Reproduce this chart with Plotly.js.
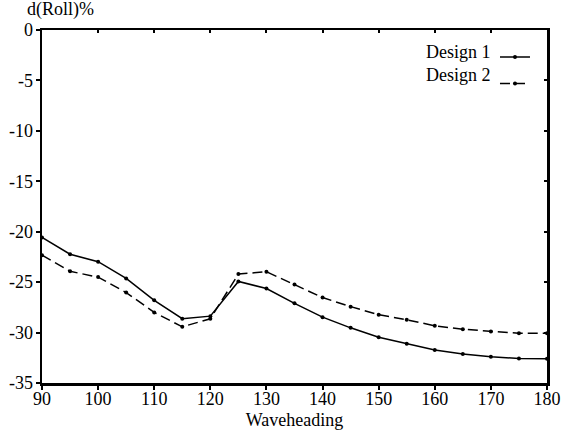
<!DOCTYPE html>
<html><head><meta charset="utf-8">
<script src="https://cdn.plot.ly/plotly-3.0.1.min.js"></script>
<style>html,body{margin:0;padding:0;background:#fff}#chart{width:561px;height:432px}</style>
</head><body><div id="chart"></div>
<script>
const waveheading = [90,95,100,105,110,115,120,125,130,135,140,145,150,155,160,165,170,175,180];
const design1 = [-20.57,-22.23,-22.97,-24.63,-26.8,-28.63,-28.37,-24.93,-25.63,-27.1,-28.47,-29.53,-30.47,-31.1,-31.73,-32.13,-32.4,-32.57,-32.6];
const design2 = [-22.33,-23.93,-24.5,-26.03,-28.0,-29.43,-28.63,-24.2,-23.97,-25.23,-26.53,-27.43,-28.23,-28.73,-29.33,-29.67,-29.9,-30.07,-30.07];
const seriesNames = ['Design 1','Design 2'];
const xTicks = [90,100,110,120,130,140,150,160,170,180];
const yTicks = [0,-5,-10,-15,-20,-25,-30,-35];
const xLabel = 'Waveheading';
const yLabel = 'd(Roll)%';

const FONT = '"Liberation Serif", "Times New Roman", serif';
const traces = [
  {x: waveheading, y: design1, name: ' ', mode: 'lines+markers', type: 'scatter',
   line: {color: '#000', width: 1.5}, marker: {symbol: 'circle', size: 4, color: '#000'}},
  {x: waveheading, y: design2, name: ' ', mode: 'lines+markers', type: 'scatter',
   line: {color: '#000', width: 1.5, dash: '10px,5px'}, marker: {symbol: 'circle', size: 4, color: '#000'}},
  {x: [], y: [], xaxis: 'x2', yaxis: 'y2', showlegend: false, hoverinfo: 'skip', type: 'scatter', mode: 'lines'}
];
const axisCommon = {showgrid: false, zeroline: false, linecolor: '#000', linewidth: 2.5,
  tickcolor: '#000', tickwidth: 2, tickfont: {family: FONT, size: 18, color: '#000'}};
const layout = {
  width: 561, height: 432,
  margin: {l: 42, r: 14, t: 30, b: 49},
  paper_bgcolor: '#fff', plot_bgcolor: '#fff',
  font: {family: FONT, size: 18, color: '#000'},
  xaxis: Object.assign({}, axisCommon, {range: [90, 180], tickmode: 'array', tickvals: xTicks,
    ticktext: xTicks.map(String), ticklabelstandoff: -6,
    ticks: 'outside', ticklen: 4, mirror: true, automargin: false,
    title: {text: xLabel, font: {family: FONT, size: 18}, standoff: 6}}),
  yaxis: Object.assign({}, axisCommon, {range: [-35, 0], tickmode: 'array', tickvals: yTicks,
    ticktext: yTicks.map(String), ticklabelstandoff: -1,
    ticks: 'outside', ticklen: 4, mirror: true, automargin: false}),
  xaxis2: {overlaying: 'x', side: 'top', range: [90, 180], tickmode: 'array', tickvals: xTicks,
    ticks: 'inside', ticklen: 3, tickwidth: 2, tickcolor: '#000', showticklabels: false,
    showgrid: false, zeroline: false, showline: false},
  yaxis2: {overlaying: 'y', side: 'right', range: [-35, 0], tickmode: 'array', tickvals: yTicks,
    ticks: 'inside', ticklen: 3, tickwidth: 2, tickcolor: '#000', showticklabels: false,
    showgrid: false, zeroline: false, showline: false},
  showlegend: true,
  legend: {x: 0.897, y: 0.975, xanchor: 'left', yanchor: 'top', bgcolor: 'rgba(0,0,0,0)',
    font: {family: FONT, size: 18}, tracegroupgap: 0, itemwidth: 30},
  annotations: [
    {text: yLabel, xref: 'paper', yref: 'paper', x: -0.034, y: 1.057, xanchor: 'left', yanchor: 'middle',
     showarrow: false, font: {family: FONT, size: 18, color: '#000'}},
    {text: seriesNames[0], xref: 'paper', yref: 'paper', x: 0.893, y: 0.9377, xanchor: 'right', yanchor: 'middle',
     showarrow: false, font: {family: FONT, size: 18, color: '#000'}},
    {text: seriesNames[1], xref: 'paper', yref: 'paper', x: 0.893, y: 0.8725, xanchor: 'right', yanchor: 'middle',
     showarrow: false, font: {family: FONT, size: 18, color: '#000'}}
  ]
};
Plotly.newPlot('chart', traces, layout, {displayModeBar: false, staticPlot: true});
</script>
</body></html>
